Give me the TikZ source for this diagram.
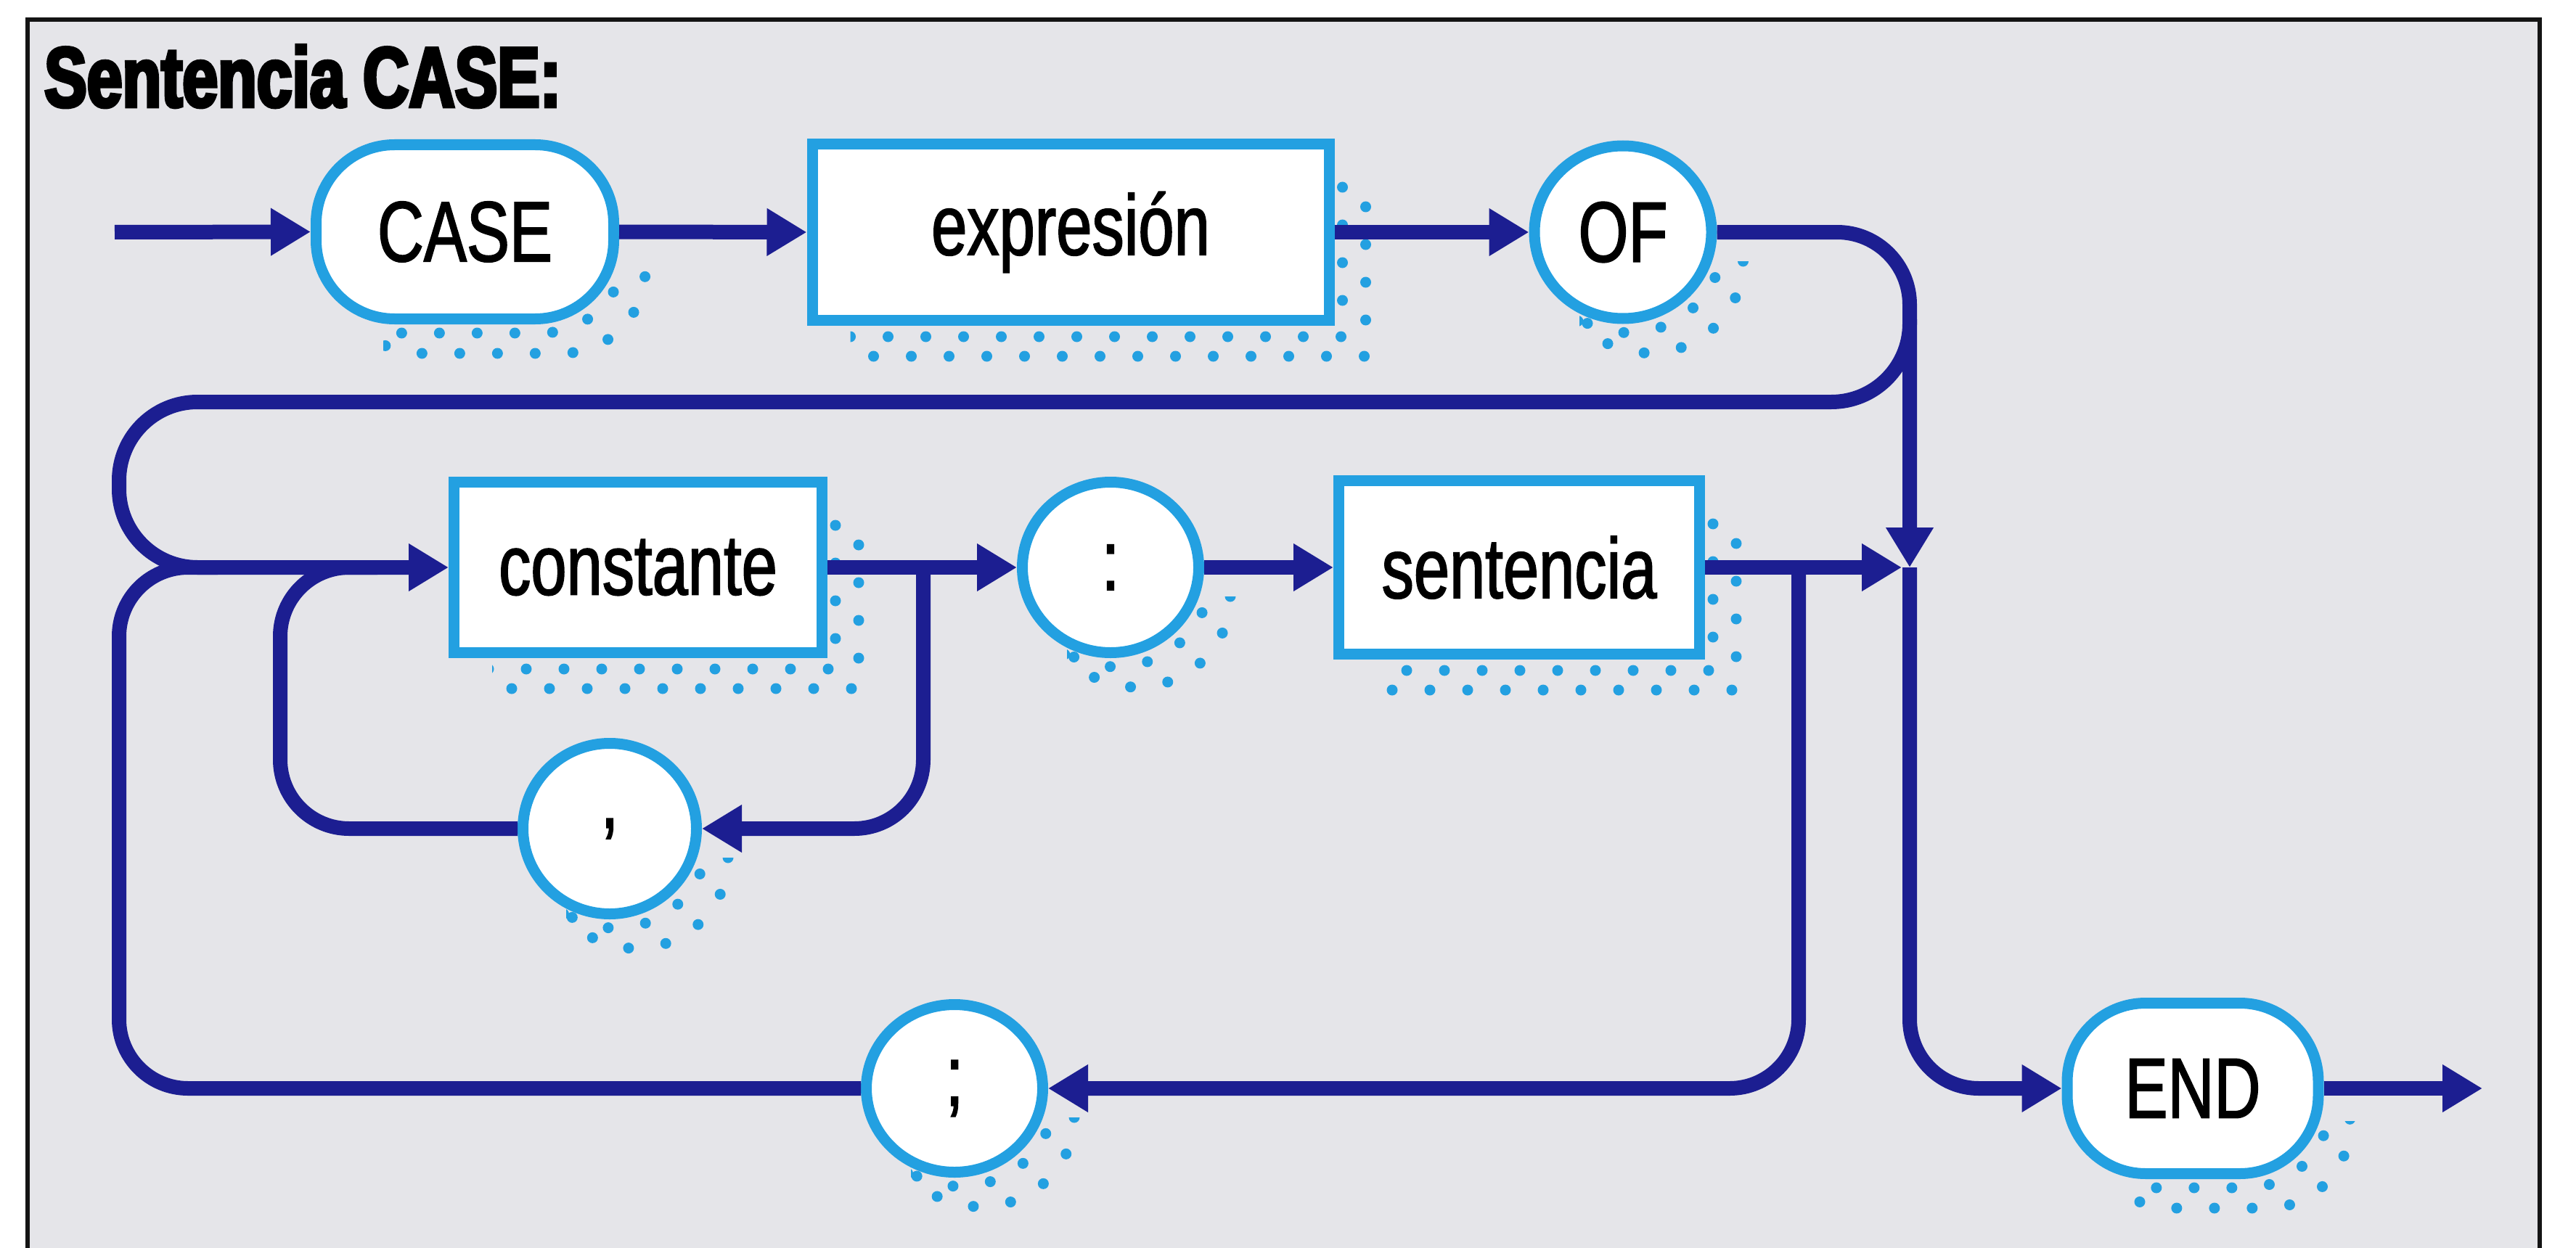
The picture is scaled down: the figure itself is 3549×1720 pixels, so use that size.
\documentclass[tikz,border=0pt]{standalone}
\usepackage{fontspec}
\setmainfont{Liberation Sans}[FakeStretch=0.75, FakeBold=1.5]
\newfontfamily\titlefont{Liberation Sans}[FakeStretch=0.75, BoldFeatures={FakeBold=4}]
\usetikzlibrary{arrows.meta,shapes.geometric}
\definecolor{navy}{RGB}{28,30,145}
\definecolor{skyb}{RGB}{35,160,225}
\definecolor{paper}{RGB}{229,229,233}
\definecolor{framec}{RGB}{20,20,20}
\tikzset{
  box/.style={draw=skyb, fill=white, line width=15pt, inner sep=0pt, text=black,
              font=\fontsize{118pt}{122pt}\selectfont},
  rectbox/.style={box, rectangle},
  pill/.style={box, rectangle, rounded corners=108pt},
  oval/.style={box, ellipse},
  conn/.style={draw=navy, line width=20pt},
  arr/.style={-{Triangle[length=55pt,width=62pt]}},
  dotrow/.style={draw=skyb, line width=15pt, line cap=round, dash pattern=on 0pt off 52pt},
}
% stippled shadows: left top right bottom (outer edges)
\newcommand\rectdots[4]{%
  \begin{scope}
    \clip ({#1+60},{#2+55}) rectangle ({#3+70},{#4+70});
    \draw[dotrow] ({#3+11},{#2+15}) -- ({#3+11},{#4+15}) -- ({#1+11},{#4+15});
    \draw[dotrow] ({#3+43},{#2+42}) -- ({#3+43},{#4+42}) -- ({#1+43},{#4+42});
  \end{scope}}
% centre x, centre y, outer x radius, outer y radius
\newcommand\ovaldots[4]{%
  \begin{scope}
    \clip ({#1-60},{#2+40}) rectangle ({#1+#3+70},{#2+#4+70});
    \draw[dotrow] ({#1+8},{#2+12}) ellipse [x radius=#3, y radius=#4];
    \draw[dotrow] ({#1+36},{#2+40}) ellipse [x radius=#3, y radius=#4];
  \end{scope}}
% left top right bottom (outer edges)
\newcommand\pilldots[4]{%
  \begin{scope}
    \clip ({#1+100},{(#2+#4)/2+45}) rectangle ({#3+70},{#4+70});
    \draw[dotrow, rounded corners=115pt] ({#1+8},{#2+12}) rectangle ({#3+8},{#4+12});
    \draw[dotrow, rounded corners=115pt] ({#1+36},{#2+40}) rectangle ({#3+36},{#4+40});
  \end{scope}}
\begin{document}
\begin{tikzpicture}[x=1pt,y=-1pt]
\useasboundingbox (0,0) rectangle (3549,1720);
\fill[white] (0,0) rectangle (3549,1720);
\fill[paper] (38,27) rectangle (3499,1730);
\draw[framec, line width=6pt] (38,1730) -- (38,27) -- (3499,27) -- (3499,1730);

\node[anchor=base west, inner sep=0pt, text=black,
      font=\titlefont\bfseries\fontsize{117pt}{120pt}\selectfont] (title) at (61,147) {Sentencia CASE:};

% shadows
\pilldots{428}{192}{853}{447}
\rectdots{1111.5}{191}{1838.5}{449}
\ovaldots{2236}{320}{129.5}{126.5}
\rectdots{618}{657}{1140}{907}
\ovaldots{1530}{782}{129}{125}
\rectdots{1837}{655}{2349}{909}
\ovaldots{840}{1142}{127}{125}
\ovaldots{1315}{1500}{129}{123}
\pilldots{2840.5}{1375}{3201.5}{1625}

% nodes
\node[pill, minimum width=410pt, minimum height=240pt] (case) at (640.5,319.5) {CASE};
\node[rectbox, minimum width=712pt, minimum height=243pt] (expr) at (1475,320) {expresión};
\node[oval, minimum width=244pt, minimum height=238pt] (of) at (2236,320) {OF};
\node[rectbox, minimum width=507pt, minimum height=235pt] (const) at (879,782) {constante};
\node[oval, minimum width=243pt, minimum height=235pt] (colon) at (1530,782) {:};
\node[rectbox, minimum width=497pt, minimum height=239pt] (sent) at (2093,782) {sentencia};
\node[oval, minimum width=239pt, minimum height=235pt] (comma) at (840,1142) {,};
\node[oval, minimum width=243pt, minimum height=231pt] (semi) at (1315,1500) {;};
\node[pill, minimum width=346pt, minimum height=235pt] (end) at (3021,1500) {END};

% coordinates
\coordinate (start) at (158,320);
\coordinate (jtop) at (2631,320);
\coordinate (jmid) at (2631,782);
\coordinate (jbot) at (2631,1500);
\coordinate (lb1) at (2631,440);
\coordinate (lb2) at (2631,554);
\coordinate (lb3) at (164,554);
\coordinate (lb4) at (164,782);
\coordinate (bl1) at (164,1500);
\coordinate (bl2) at (300,782);
\coordinate (cl1) at (1272,782);
\coordinate (cl2) at (1272,1142);
\coordinate (cl3) at (386,1142);
\coordinate (cl4) at (386,782);
\coordinate (cl5) at (520,782);
\coordinate (rt1) at (2478,782);
\coordinate (rt2) at (2478,1500);
\coordinate (sentend) at (2620,782);
\coordinate (exit) at (3420,1500);

% connectors
\draw[conn,arr] (start) -- (case.west);
\draw[conn,arr] (case.east) -- (expr.west);
\draw[conn,arr] (expr.east) -- (of.west);
\draw[conn,arr,rounded corners=100pt] (of.east) -- (jtop) -- (jmid);
\draw[conn,arr,rounded corners=95pt] (jmid) -- (jbot) -- (end.west);
\draw[conn,arr,rounded corners=108pt] (lb1) -- (lb2) -- (lb3) -- (lb4) -- (const.west);
\draw[conn,rounded corners=95pt] (semi.west) -- (bl1) -- (lb4) -- (bl2);
\draw[conn,arr] (const.east) -- (colon.west);
\draw[conn,arr] (colon.east) -- (sent.west);
\draw[conn,arr,rounded corners=95pt] (cl1) -- (cl2) -- (comma.east);
\draw[conn,rounded corners=95pt] (comma.west) -- (cl3) -- (cl4) -- (cl5);
\draw[conn,arr] (sent.east) -- (sentend);
\draw[conn,arr,rounded corners=95pt] (rt1) -- (rt2) -- (semi.east);
\draw[conn,arr] (end.east) -- (exit);
\end{tikzpicture}
\end{document}
